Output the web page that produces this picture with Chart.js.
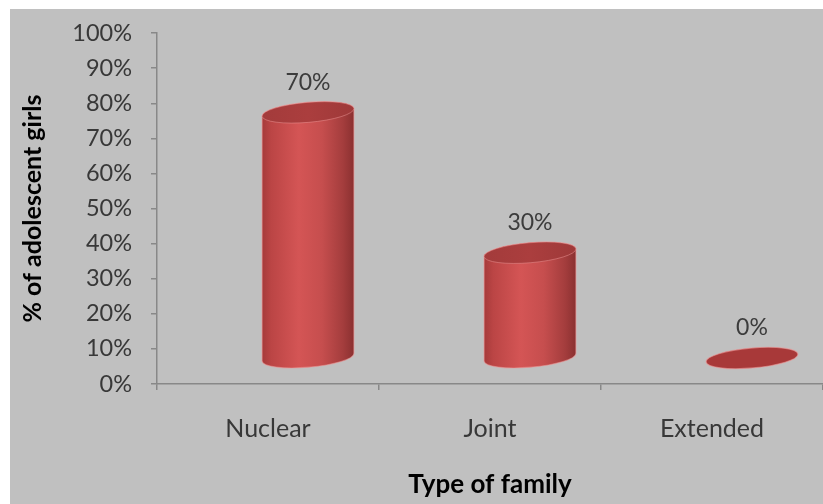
<!DOCTYPE html>
<html>
<head>
<meta charset="utf-8">
<script src="https://cdn.jsdelivr.net/npm/chart.js@4.4.0/dist/chart.umd.min.js"></script>
<style>
  html, body { margin: 0; padding: 0; background: #ffffff; }
  #wrap { width: 823px; height: 504px; position: relative; }
</style>
</head>
<body>
<div id="wrap"><canvas id="c" width="823" height="504"></canvas></div>
<script>
// Family type distribution of adolescent girls
const familyTypes = ['Nuclear', 'Joint', 'Extended'];
const girlsShare = [70, 30, 0];
const percentTicks = [0, 10, 20, 30, 40, 50, 60, 70, 80, 90, 100];
const percentTickLabels = ['0%', '10%', '20%', '30%', '40%', '50%', '60%', '70%', '80%', '90%', '100%'];

const FONT = 'Lato, "Open Sans", sans-serif';
const AXIS_GREY = '#888888';

// Panel background: white margin with a grey chart panel
const panelBackground = {
  id: 'panelBackground',
  beforeDraw(chart) {
    const ctx = chart.ctx;
    ctx.save();
    ctx.fillStyle = '#ffffff';
    ctx.fillRect(0, 0, chart.width, chart.height);
    ctx.fillStyle = '#c0c0c0';
    ctx.fillRect(10, 9, chart.width - 10, chart.height - 9);
    ctx.restore();
  }
};

// Draws each bar as a 3D cylinder standing on a receding floor
const cylinders = {
  id: 'cylinders',
  afterDatasetsDraw(chart) {
    const ctx = chart.ctx;
    const meta = chart.getDatasetMeta(0);
    const depthX = 40, depthY = 26;   // perspective offset of the floor
    const ry = 10, rot = -0.085;       // ellipse squash and tilt
    const cos = Math.cos(rot), sin = Math.sin(rot);

    meta.data.forEach((bar, i) => {
      const p = bar.getProps(['x', 'y', 'base', 'width'], true);
      const cx = p.x + depthX;
      const top = p.y - depthY;
      const bot = p.base - depthY;
      const rx = p.width / 2;

      ctx.save();
      if (bot - top > 1) {
        // body
        const g = ctx.createLinearGradient(cx - rx, 0, cx + rx, 0);
        g.addColorStop(0.00, '#a53a3a');
        g.addColorStop(0.10, '#bb4545');
        g.addColorStop(0.40, '#d45555');
        g.addColorStop(0.65, '#c64e4e');
        g.addColorStop(0.88, '#a43d3d');
        g.addColorStop(1.00, '#8a3030');
        ctx.beginPath();
        ctx.moveTo(cx - rx * cos, top - rx * sin);
        ctx.lineTo(cx - rx * cos, bot - rx * sin);
        ctx.ellipse(cx, bot, rx, ry, rot, Math.PI, 0, true);
        ctx.lineTo(cx + rx * cos, top + rx * sin);
        ctx.ellipse(cx, top, rx, ry, rot, 0, -Math.PI, true);
        ctx.closePath();
        ctx.fillStyle = g;
        ctx.fill();
        ctx.strokeStyle = 'rgba(236,150,150,0.55)';
        ctx.lineWidth = 1.2;
        ctx.stroke();

        // lid
        const lg = ctx.createLinearGradient(cx - rx, 0, cx + rx, 0);
        lg.addColorStop(0, '#a33b3b');
        lg.addColorStop(0.5, '#ab3e3e');
        lg.addColorStop(1, '#9e3939');
        ctx.beginPath();
        ctx.ellipse(cx, top, rx, ry, rot, 0, Math.PI * 2);
        ctx.fillStyle = lg;
        ctx.fill();
        ctx.strokeStyle = 'rgba(236,150,150,0.5)';
        ctx.lineWidth = 1;
        ctx.stroke();
      } else {
        // flat disc for a zero value
        ctx.beginPath();
        ctx.ellipse(cx, bot, rx, ry, rot, 0, Math.PI * 2);
        ctx.fillStyle = '#a83939';
        ctx.fill();
        ctx.strokeStyle = 'rgba(236,150,150,0.6)';
        ctx.lineWidth = 1.2;
        ctx.stroke();
      }

      // value label
      ctx.fillStyle = '#3c3c3c';
      ctx.font = '23px ' + FONT;
      ctx.textAlign = 'center';
      ctx.textBaseline = 'middle';
      ctx.fillText(girlsShare[i] + '%', cx, top - 30);
      ctx.restore();
    });
  }
};

new Chart(document.getElementById('c'), {
  type: 'bar',
  data: {
    labels: familyTypes,
    datasets: [{
      data: girlsShare,
      backgroundColor: 'rgba(0,0,0,0)',
      borderWidth: 0,
      categoryPercentage: 1,
      barPercentage: 0.415
    }]
  },
  options: {
    responsive: false,
    animation: false,
    devicePixelRatio: 1,
    layout: { padding: { top: 30, right: 0, bottom: 0, left: 0 } },
    plugins: { legend: { display: false }, tooltip: { enabled: false } },
    scales: {
      y: {
        min: 0,
        max: 100,
        afterBuildTicks(scale) { scale.ticks = percentTicks.map(v => ({ value: v })); },
        afterFit(scale) { scale.width = 157; },
        ticks: {
          color: '#383838',
          font: { family: FONT, size: 23.5 },
          padding: 19,
          callback: (v) => percentTickLabels[percentTicks.indexOf(v)]
        },
        grid: { drawOnChartArea: false, drawTicks: true, tickLength: 6, color: AXIS_GREY, lineWidth: 1.5 },
        border: { color: AXIS_GREY, width: 1.5 },
        title: {
          display: true,
          text: '% of adolescent girls',
          color: '#000000',
          font: { family: FONT, size: 25, weight: 'bold' },
          padding: { top: 18, bottom: 0 }
        }
      },
      x: {
        afterFit(scale) { scale.height = 120; },
        ticks: {
          color: '#383838',
          font: { family: FONT, size: 25 },
          padding: 24
        },
        grid: { drawOnChartArea: false, drawTicks: true, tickLength: 6, color: AXIS_GREY, lineWidth: 1.5, offset: true },
        border: { color: AXIS_GREY, width: 1.5 },
        title: {
          display: true,
          text: 'Type of family',
          color: '#000000',
          font: { family: FONT, size: 26, weight: 'bold' },
          padding: { top: 0, bottom: 4 }
        }
      }
    }
  },
  plugins: [panelBackground, cylinders]
});
</script>
</body>
</html>
